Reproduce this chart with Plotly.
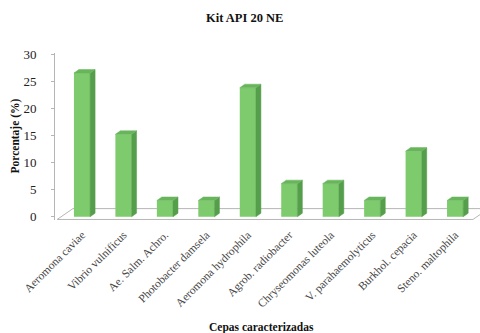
import plotly.graph_objects as go

categories = ["Aeromona caviae", "Vibrio vulnificus", "Ae. Salm. Achro.", "Photobacter damsela",
              "Aeromona hydrophila", "Agrob. radiobacter", "Chryseomonas luteola",
              "V. parahaemolyticus", "Burkhol. cepacia", "Steno. maltophila"]
values = [26.5, 15.2, 3.0, 3.0, 23.8, 6.1, 6.1, 3.0, 12.1, 3.0]
y_ticks = [0, 5, 10, 15, 20, 25, 30]

title_text = "Kit API 20 NE"
x_title = "Cepas caracterizadas"
y_title = "Porcentaje (%)"

FRONT = "#7dcb6c"
SIDE = "#559e4b"
TOP = "#68b55c"
GRID = "#b5b5b5"
SERIF = "Liberation Serif, Times New Roman, serif"

idx = list(range(len(categories)))
bar_w = 0.39
dx, dy = 0.12, 0.65          # 3D depth offset of bars (data units)
x_range = [-0.652, 9.6]
y_range = [-0.6, 30.2]

fig = go.Figure()

# front faces
fig.add_trace(go.Bar(x=idx, y=values, width=bar_w, marker=dict(color=FRONT, line=dict(width=0)),
                     showlegend=False))

# side and top faces
sx, sy = [], []
tx, ty = [], []
for i, v in zip(idx, values):
    r = i + bar_w / 2
    l = i - bar_w / 2
    sx += [r, r + dx, r + dx, r, r, None]
    sy += [0, dy, v + dy, v, 0, None]
    tx += [l, r, r + dx, l + dx, l, None]
    ty += [v, v, v + dy, v + dy, v, None]
fig.add_trace(go.Scatter(x=sx, y=sy, mode="lines", fill="toself", fillcolor=SIDE,
                         line=dict(color=SIDE, width=0.5), hoverinfo="skip", showlegend=False))
fig.add_trace(go.Scatter(x=tx, y=ty, mode="lines", fill="toself", fillcolor=TOP,
                         line=dict(color=TOP, width=0.5), hoverinfo="skip", showlegend=False))

# floor (background shape)
fx0, fx1, fy0 = -0.6, 9.43, -0.5
fdx, fdy = 0.38, 2.0
floor_path = (f"M {fx0},{fy0} L {fx1},{fy0} L {fx1 + fdx},{fy0 + fdy} "
              f"L {fx0 + fdx},{fy0 + fdy} Z")

fig.update_layout(
    width=480, height=333,
    margin=dict(l=55, r=0, t=53, b=113, autoexpand=False),
    paper_bgcolor="white", plot_bgcolor="white",
    font=dict(family=SERIF, color="#222"),
    shapes=[dict(type="path", path=floor_path, xref="x", yref="y", layer="below",
                 line=dict(color=GRID, width=1), fillcolor="rgba(0,0,0,0)")],
    xaxis=dict(range=x_range, tickmode="array", tickvals=idx, ticktext=categories,
               tickangle=-45, tickfont=dict(size=11.5, color="#444", family=SERIF), ticks="",
               showgrid=False, zeroline=False, showline=False, automargin=False,
               ticklabelstandoff=5),
    xaxis2=dict(range=x_range, overlaying="x", anchor="y", side="bottom",
                tickmode="array", tickvals=[i + 0.4 for i in idx[:-1]] + [-0.6],
                ticks="outside", ticklen=3, tickcolor=GRID, showticklabels=False,
                showgrid=False, zeroline=False, showline=False, automargin=False),
    yaxis=dict(range=y_range, tickmode="array", tickvals=y_ticks,
               tickfont=dict(size=13, color="#222", family=SERIF), ticks="outside", ticklen=3,
               tickcolor=GRID, showline=True, linecolor=GRID, linewidth=1,
               showgrid=False, zeroline=False, ticklabelstandoff=12, automargin=False),
    annotations=[
        dict(text="<b>" + title_text + "</b>", xref="paper", yref="paper", x=0.447, y=1.0,
             xanchor="center", yanchor="middle", yshift=35, showarrow=False,
             font=dict(size=12.5, color="#111", family=SERIF)),
        dict(text="<b>" + y_title + "</b>", xref="paper", yref="paper", x=0, y=0.5,
             xanchor="center", yanchor="middle", xshift=-40, textangle=-90, showarrow=False,
             font=dict(size=11.5, color="#111", family=SERIF)),
        dict(text="<b>" + x_title + "</b>", xref="paper", yref="paper", x=0.485, y=0,
             xanchor="center", yanchor="middle", yshift=-107, showarrow=False,
             font=dict(size=11.5, color="#111", family=SERIF)),
    ],
)

fig.write_html("out.html", config={"displayModeBar": False},
               post_script="document.body.style.margin='0';")
